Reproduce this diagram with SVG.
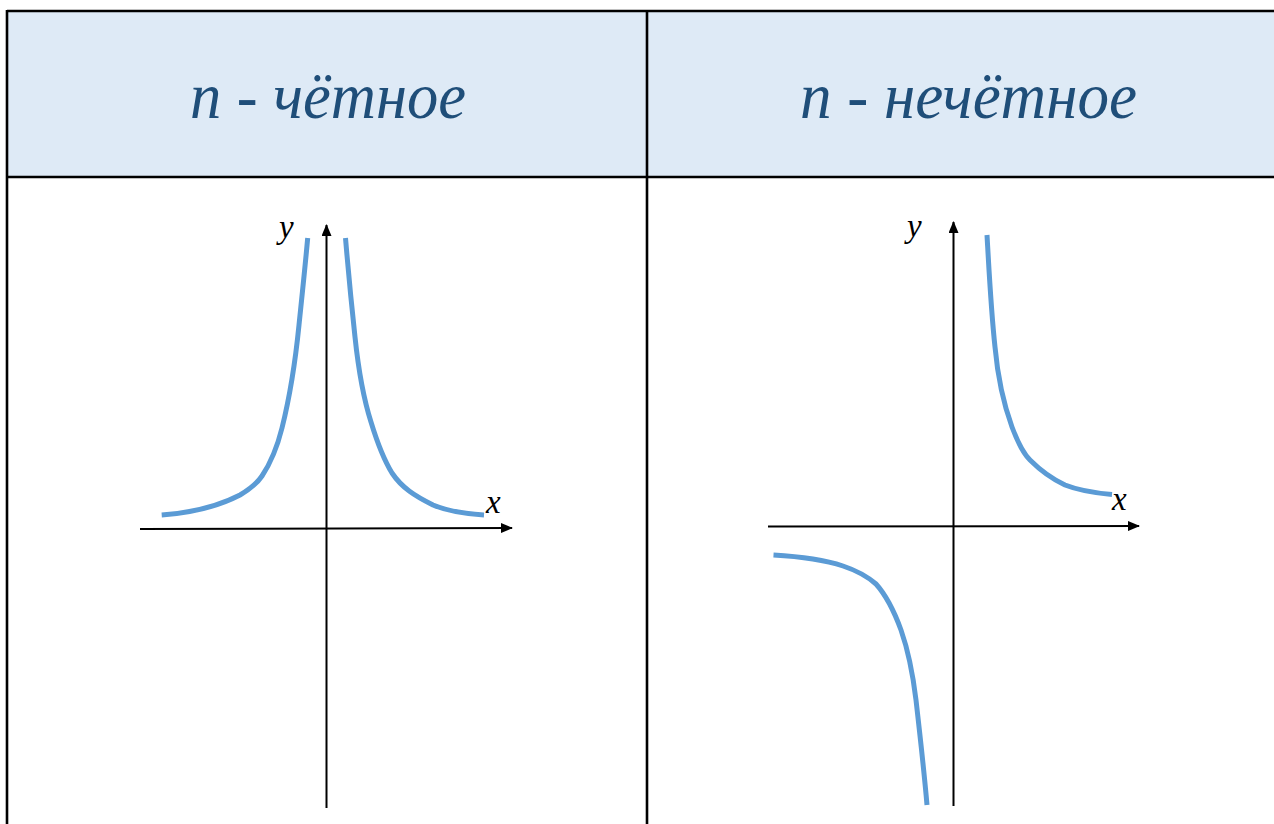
<svg xmlns="http://www.w3.org/2000/svg" width="1274" height="824" viewBox="0 0 1274 824">
  <defs>
    <marker id="arr" viewBox="0 0 12 10" refX="11" refY="5" markerWidth="12" markerHeight="10" markerUnits="userSpaceOnUse" orient="auto">
      <path d="M0,0 L12,5 L0,10 Z" fill="#000"/>
    </marker>
    <style>
      .hdr { fill: #deeaf6; }
      .border { stroke: #000; stroke-width: 2.6; fill: none; }
      .htext { font-family: "Liberation Serif", "DejaVu Serif", serif; font-style: italic; font-size: 66px; fill: #1f4e79; }
      .lbl { font-family: "Liberation Serif", "DejaVu Serif", serif; font-style: italic; font-size: 33px; fill: #000; }
      .axis { stroke: #000; stroke-width: 2; fill: none; }
      .curve { stroke: #5b9bd5; stroke-width: 5; fill: none; stroke-linecap: butt; stroke-linejoin: round; }
    </style>
  </defs>
  <rect x="0" y="0" width="1274" height="824" fill="#fff"/>

  <g id="table">
    <rect class="hdr" x="7" y="11" width="1267" height="166"/>
    <line class="border" x1="7" y1="11" x2="1274" y2="11"/>
    <line class="border" x1="7" y1="177" x2="1274" y2="177"/>
    <line class="border" x1="7" y1="10" x2="7" y2="824"/>
    <line class="border" x1="647" y1="10" x2="647" y2="824"/>
  </g>

  <g id="header-even">
    <text class="htext" x="190" y="118" textLength="276" lengthAdjust="spacingAndGlyphs">n - чётное</text>
  </g>
  <g id="header-odd">
    <text class="htext" x="800" y="118" textLength="337" lengthAdjust="spacingAndGlyphs">n - нечётное</text>
  </g>

  <g id="connectors">
    <line class="axis" x1="140" y1="529" x2="512" y2="528" marker-end="url(#arr)"/>
    <line class="axis" x1="326.5" y1="808" x2="326.5" y2="225" marker-end="url(#arr)"/>
    <line class="axis" x1="768" y1="526.5" x2="1139" y2="526" marker-end="url(#arr)"/>
    <line class="axis" x1="953.5" y1="806" x2="953.5" y2="222" marker-end="url(#arr)"/>
  </g>

  <g id="graph-even">
    <path class="curve" d="M161.7,515 C190,513 215,508 240,495 C252,488 258,482 262,476 C270,464 277,448 282,428 C290,396 295,365 299,325 C302,296 305,268 307.7,238"/>
    <path class="curve" d="M345.5,238 C348,268 351,300 355,337 C359,375 364,400 371,422 C378,445 384,460 392,473 C402,488 415,496 433,505 C450,512 468,514 484,515"/>
    <text class="lbl" x="279" y="238">y</text>
    <text class="lbl" x="486" y="513">x</text>
  </g>

  <g id="graph-odd">
    <path class="curve" d="M987,235 C989,270 991,310 995,347 C998,380 1004,405 1012,427 C1018,443 1023,453 1030,460 C1040,470 1050,478 1065,485 C1080,491 1095,493 1112,494.5"/>
    <path class="curve" d="M773.5,555 C800,556.5 822,559 843,566 C858,571 868,577 876,584 C885,594 893,608 901,630 C908,650 913,675 916,700 C920,735 924,770 927,805"/>
    <text class="lbl" x="907" y="237">y</text>
    <text class="lbl" x="1112" y="510">x</text>
  </g>
</svg>
